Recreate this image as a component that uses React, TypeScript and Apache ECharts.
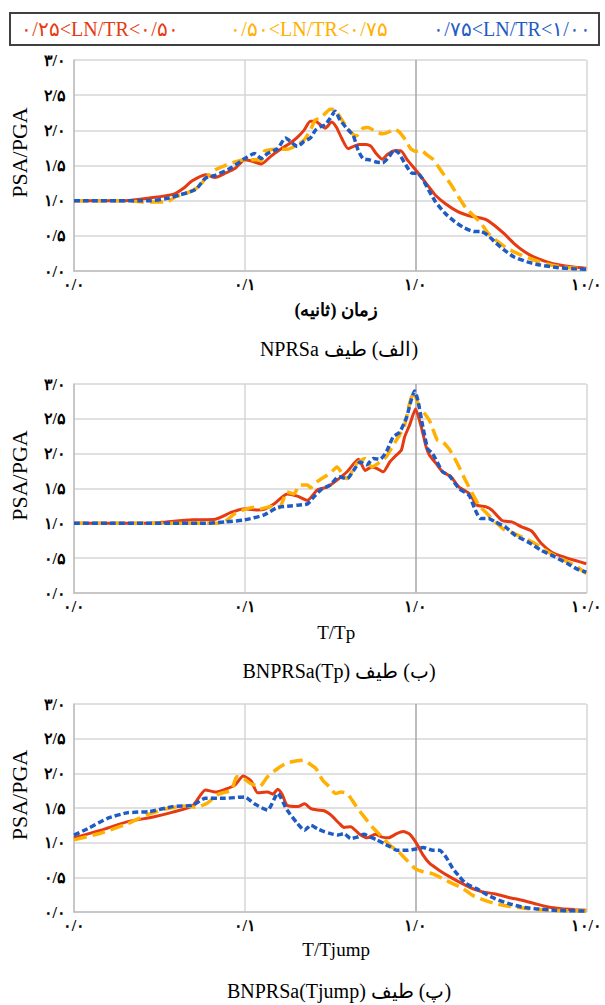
import { useEffect, useRef } from 'react';
import * as echarts from 'echarts';

// ---------- DATA (period or normalised period, PSA/PGA) ----------
const nprsaRed: [number, number][] = [
  [0.01, 1.0], [0.02, 1.0], [0.028, 1.04], [0.038, 1.09], [0.044, 1.18], [0.049, 1.28], [0.059, 1.37], [0.067, 1.33],
  [0.077, 1.39], [0.088, 1.46], [0.1, 1.58], [0.114, 1.55], [0.125, 1.52], [0.142, 1.63], [0.162, 1.73], [0.185, 1.82],
  [0.203, 1.9], [0.222, 2.0], [0.242, 2.13], [0.259, 2.13], [0.277, 2.08], [0.296, 2.03], [0.323, 2.12], [0.345, 2.04],
  [0.369, 1.89], [0.403, 1.74], [0.441, 1.78], [0.471, 1.8], [0.515, 1.8], [0.55, 1.77], [0.588, 1.67], [0.637, 1.59],
  [0.687, 1.66], [0.75, 1.71], [0.819, 1.71], [0.895, 1.58], [1.0, 1.44], [1.093, 1.32], [1.194, 1.2], [1.304, 1.08],
  [1.49, 0.96], [1.78, 0.84], [2.03, 0.79], [2.32, 0.76], [2.59, 0.73], [2.89, 0.65], [3.3, 0.53], [3.78, 0.39],
  [4.31, 0.28], [4.92, 0.2], [5.88, 0.13], [7.0, 0.085], [8.4, 0.057], [10, 0.04],
];
const nprsaOrange: [number, number][] = [
  [0.01, 1.0], [0.02, 1.0], [0.0255, 0.98], [0.0347, 0.98], [0.0396, 1.06], [0.0452, 1.1], [0.054, 1.2], [0.0589, 1.32],
  [0.0673, 1.44], [0.0768, 1.5], [0.0877, 1.55], [0.1, 1.58], [0.119, 1.58], [0.125, 1.57], [0.13, 1.7], [0.149, 1.73],
  [0.177, 1.73], [0.203, 1.79], [0.222, 1.86], [0.242, 2.0], [0.259, 2.15], [0.277, 2.17], [0.296, 2.24], [0.316, 2.3],
  [0.338, 2.29], [0.361, 2.19], [0.395, 2.05], [0.422, 1.96], [0.451, 1.92], [0.492, 2.03], [0.526, 2.04], [0.588, 1.98],
  [0.642, 1.95], [0.702, 1.98], [0.75, 2.02], [0.801, 1.98], [0.876, 1.86], [0.936, 1.74], [1.0, 1.7], [1.069, 1.72],
  [1.168, 1.65], [1.276, 1.58], [1.425, 1.41], [1.59, 1.25], [1.78, 1.06], [1.98, 0.89], [2.22, 0.77], [2.42, 0.68],
  [2.65, 0.54], [3.02, 0.42], [3.45, 0.32], [4.12, 0.23], [4.92, 0.16], [5.88, 0.1], [7.02, 0.06], [10, 0.03],
];
const nprsaBlue: [number, number][] = [
  [0.01, 1.0], [0.0278, 1.0], [0.0347, 1.03], [0.0414, 1.08], [0.0517, 1.16], [0.0589, 1.32], [0.0673, 1.36],
  [0.0838, 1.47], [0.1, 1.6], [0.114, 1.67], [0.125, 1.6], [0.136, 1.67], [0.156, 1.74], [0.173, 1.89], [0.194, 1.8],
  [0.203, 1.77], [0.222, 1.84], [0.242, 1.89], [0.259, 2.0], [0.277, 2.05], [0.296, 2.08], [0.316, 2.17], [0.338, 2.27],
  [0.361, 2.15], [0.395, 2.03], [0.431, 1.93], [0.461, 1.72], [0.492, 1.6], [0.538, 1.58], [0.588, 1.55], [0.642, 1.54],
  [0.702, 1.63], [0.75, 1.72], [0.801, 1.67], [0.876, 1.51], [0.957, 1.39], [1.022, 1.39], [1.093, 1.32], [1.194, 1.15],
  [1.304, 0.99], [1.49, 0.82], [1.7, 0.7], [1.94, 0.61], [2.22, 0.56], [2.42, 0.56], [2.65, 0.51], [2.89, 0.42],
  [3.3, 0.3], [3.78, 0.2], [4.51, 0.13], [5.38, 0.085], [6.71, 0.05], [8.38, 0.033], [10, 0.024],
];

const tpRed: [number, number][] = [
  [0.01, 1.0], [0.0278, 1.0], [0.0347, 1.02], [0.0494, 1.05], [0.0673, 1.06], [0.0838, 1.16], [0.1, 1.21], [0.119, 1.19],
  [0.13, 1.2], [0.149, 1.28], [0.177, 1.42], [0.203, 1.39], [0.233, 1.33], [0.266, 1.48], [0.304, 1.52], [0.347, 1.62],
  [0.397, 1.74], [0.464, 1.92], [0.507, 1.76], [0.554, 1.81], [0.592, 1.79], [0.647, 1.74], [0.707, 1.88], [0.773, 1.98],
  [0.826, 2.05], [0.863, 2.24], [0.923, 2.41], [1.0, 2.64], [1.079, 2.39], [1.153, 2.1], [1.205, 1.98], [1.318, 1.86],
  [1.44, 1.74], [1.61, 1.67], [1.8, 1.52], [2.06, 1.43], [2.3, 1.26], [2.57, 1.24], [2.8, 1.19], [3.21, 1.04],
  [3.66, 1.02], [4.18, 0.95], [4.78, 0.89], [5.46, 0.71], [6.24, 0.59], [7.13, 0.53], [8.52, 0.47], [10, 0.42],
];
const tpOrange: [number, number][] = [
  [0.01, 1.0], [0.0673, 1.0], [0.0768, 1.03], [0.0877, 1.14], [0.1, 1.2], [0.114, 1.23], [0.125, 1.21], [0.142, 1.24],
  [0.159, 1.22], [0.177, 1.45], [0.194, 1.42], [0.21, 1.55], [0.233, 1.55], [0.243, 1.51], [0.266, 1.6], [0.317, 1.72],
  [0.347, 1.81], [0.371, 1.72], [0.397, 1.64], [0.453, 1.86], [0.507, 1.93], [0.554, 1.81], [0.619, 1.88], [0.676, 1.96],
  [0.739, 2.12], [0.808, 2.27], [0.863, 2.41], [0.923, 2.72], [0.974, 2.87], [1.055, 2.67], [1.127, 2.58], [1.205, 2.48],
  [1.26, 2.36], [1.347, 2.19], [1.44, 2.17], [1.57, 2.07], [1.68, 1.95], [1.8, 1.81], [1.96, 1.62], [2.15, 1.43],
  [2.35, 1.26], [2.62, 1.14], [2.93, 1.02], [3.35, 0.9], [3.83, 0.85], [4.38, 0.78], [5.0, 0.71], [5.97, 0.59],
  [7.13, 0.49], [8.52, 0.4], [10, 0.28],
];
const tpBlue: [number, number][] = [
  [0.01, 1.0], [0.0589, 1.0], [0.0768, 1.02], [0.1, 1.05], [0.13, 1.12], [0.156, 1.23], [0.185, 1.25], [0.204, 1.26],
  [0.233, 1.28], [0.254, 1.38], [0.285, 1.5], [0.317, 1.55], [0.355, 1.67], [0.397, 1.64], [0.434, 1.76], [0.474, 1.88],
  [0.518, 1.84], [0.566, 1.93], [0.619, 1.92], [0.676, 2.03], [0.739, 2.24], [0.808, 2.31], [0.883, 2.51], [0.944, 2.77],
  [0.987, 2.9], [1.031, 2.77], [1.103, 2.39], [1.179, 2.07], [1.26, 2.0], [1.44, 1.74], [1.57, 1.69], [1.8, 1.5],
  [2.06, 1.4], [2.24, 1.19], [2.4, 1.07], [2.68, 1.07], [2.93, 1.02], [3.35, 0.95], [3.83, 0.83], [4.58, 0.73],
  [5.47, 0.61], [6.53, 0.52], [7.8, 0.42], [8.9, 0.34], [10, 0.3],
];

const tjumpRed: [number, number][] = [
  [0.01, 1.07], [0.0144, 1.18], [0.0204, 1.3], [0.0291, 1.37], [0.0379, 1.44], [0.0494, 1.53], [0.0589, 1.76],
  [0.0673, 1.73], [0.0768, 1.77], [0.0877, 1.83], [0.0978, 1.96], [0.109, 1.89], [0.119, 1.72], [0.136, 1.73],
  [0.146, 1.7], [0.156, 1.77], [0.166, 1.69], [0.177, 1.54], [0.205, 1.52], [0.224, 1.56], [0.244, 1.49], [0.267, 1.47],
  [0.292, 1.46], [0.319, 1.4], [0.357, 1.28], [0.381, 1.22], [0.417, 1.23], [0.466, 1.13], [0.52, 1.07], [0.581, 1.12],
  [0.636, 1.08], [0.695, 1.07], [0.776, 1.13], [0.848, 1.16], [0.927, 1.12], [1.013, 0.99], [1.108, 0.82], [1.21, 0.7],
  [1.38, 0.6], [1.58, 0.51], [1.81, 0.43], [2.06, 0.36], [2.47, 0.29], [2.94, 0.26], [3.52, 0.21], [4.2, 0.17],
  [5.02, 0.12], [6.0, 0.072], [7.16, 0.048], [8.56, 0.034], [10, 0.024],
];
const tjumpOrange: [number, number][] = [
  [0.01, 1.04], [0.0144, 1.14], [0.0204, 1.27], [0.0266, 1.4], [0.0347, 1.49], [0.0452, 1.53], [0.0517, 1.51],
  [0.0602, 1.57], [0.0703, 1.7], [0.0838, 1.76], [0.0896, 1.95], [0.0978, 1.93], [0.109, 1.85], [0.122, 1.81],
  [0.136, 1.95], [0.156, 2.07], [0.177, 2.15], [0.203, 2.18], [0.224, 2.19], [0.239, 2.14], [0.261, 2.07], [0.286, 1.9],
  [0.312, 1.81], [0.341, 1.71], [0.365, 1.73], [0.398, 1.71], [0.426, 1.61], [0.466, 1.47], [0.509, 1.35], [0.556, 1.23],
  [0.621, 1.11], [0.71, 0.96], [0.794, 0.87], [0.887, 0.75], [0.991, 0.63], [1.108, 0.58], [1.266, 0.55], [1.446, 0.48],
  [1.65, 0.41], [1.89, 0.34], [2.16, 0.24], [2.47, 0.18], [2.94, 0.12], [3.52, 0.082], [4.59, 0.048], [6.0, 0.024],
  [10, 0.014],
];
const tjumpBlue: [number, number][] = [
  [0.01, 1.11], [0.012, 1.2], [0.0157, 1.35], [0.0204, 1.43], [0.0278, 1.45], [0.0379, 1.52], [0.0494, 1.54],
  [0.0589, 1.64], [0.0768, 1.64], [0.1, 1.66], [0.114, 1.56], [0.136, 1.47], [0.156, 1.71], [0.177, 1.47], [0.203, 1.28],
  [0.224, 1.18], [0.244, 1.25], [0.267, 1.2], [0.292, 1.16], [0.319, 1.13], [0.349, 1.11], [0.381, 1.13], [0.417, 1.06],
  [0.455, 1.08], [0.498, 1.12], [0.544, 1.08], [0.594, 1.04], [0.65, 0.99], [0.71, 0.94], [0.776, 0.89], [0.887, 0.89],
  [1.013, 0.91], [1.108, 0.93], [1.266, 0.89], [1.38, 0.89], [1.51, 0.79], [1.65, 0.63], [1.81, 0.51], [1.97, 0.41],
  [2.26, 0.34], [2.58, 0.26], [2.94, 0.19], [3.52, 0.12], [4.2, 0.072], [5.02, 0.048], [6.56, 0.024], [10, 0.014],
];

const seriesNames = ['۰/۲۵<LN/TR<۰/۵۰', '۰/۵۰<LN/TR<۰/۷۵', '۰/۷۵<LN/TR<۱/۰۰'];
const xAxisNames = ['\u202Bزمان (ثانیه)\u202C', 'T/Tp', 'T/Tjump'];
const captions = [
  '\u202B(الف) طیف NPRSa\u202C',
  '\u202B(ب) طیف BNPRSa(Tp)\u200E\u202C',
  '\u202B(پ) طیف BNPRSa(Tjump)\u200E\u202C',
];
const yAxisName = 'PSA/PGA';

// ---------- STYLE / LAYOUT ----------
const FONT = '"Liberation Serif", "Times New Roman", serif';
const COLORS = ['#E63A12', '#FFB000', '#1F5BC4'];
const DASHES: any[] = ['solid', [13, 6], [6, 3]];
const WIDTHS = [3, 3.5, 3.5];
const GRID_TOPS = [60, 384, 704];
const GRID_HEIGHTS = [211, 209, 208];
const NAME_GAPS = [30, 30, 28];
const CAPTION_Y = [349, 671, 991];
const LEGEND_X = [100, 309, 512];

const toFa = (s: string) =>
  s.replace(/[0-9]/g, (d) => String.fromCharCode(0x06f0 + Number(d))).replace(/\./g, '/');

export default function App() {
  const ref = useRef<HTMLDivElement>(null);
  useEffect(() => {
    if (!ref.current) return;
    const chart = echarts.init(ref.current, null, { renderer: 'svg' });
    const panels = [
      [nprsaRed, nprsaOrange, nprsaBlue],
      [tpRed, tpOrange, tpBlue],
      [tjumpRed, tjumpOrange, tjumpBlue],
    ];
    const grid = GRID_TOPS.map((top, i) => ({ left: 73, width: 520, top, height: GRID_HEIGHTS[i] }));
    const xAxis = panels.map((_, i) => ({
      type: 'log',
      logBase: 10,
      min: 0.01,
      max: 10,
      gridIndex: i,
      axisLine: { show: true, onZero: false, lineStyle: { color: '#bfbfbf', width: 1.5 } },
      axisTick: { show: false },
      axisLabel: {
        formatter: (v: number) => toFa(Number(v).toFixed(1)),
        fontFamily: FONT,
        fontSize: 16,
        fontWeight: 'bold',
        color: '#000',
        margin: 5,
      },
      splitLine: {
        show: true,
        lineStyle: { color: ['#d6d6d6', '#d6d6d6', '#a6a6a6', '#d6d6d6'], width: 1.5 },
      },
      name: xAxisNames[i],
      nameLocation: 'middle',
      nameGap: NAME_GAPS[i],
      nameTextStyle: {
        fontFamily: FONT,
        fontSize: i === 0 ? 18 : 19,
        fontWeight: i === 0 ? 'bold' : 'normal',
        color: '#000',
        padding: [0, 0, 0, 12],
      },
    }));
    const yAxis = panels.map((_, i) => ({
      type: 'value',
      min: 0,
      max: 3,
      interval: 0.5,
      gridIndex: i,
      axisLine: { show: true, lineStyle: { color: '#bfbfbf', width: 1.5 } },
      axisTick: { show: false },
      axisLabel: {
        formatter: (v: number) => toFa(Number(v).toFixed(1)),
        fontFamily: FONT,
        fontSize: 16,
        fontWeight: 'bold',
        color: '#000',
        margin: 8,
      },
      splitLine: { show: true, lineStyle: { color: '#d6d6d6', width: 1.5 } },
      name: yAxisName,
      nameLocation: 'middle',
      nameGap: 44,
      nameRotate: 90,
      nameTextStyle: { fontFamily: FONT, fontSize: 22, color: '#000', padding: [0, 0, 0, 26] },
    }));
    const series: any[] = [];
    panels.forEach((set, i) => {
      set.forEach((data, k) => {
        series.push({
          type: 'line',
          name: seriesNames[k],
          xAxisIndex: i,
          yAxisIndex: i,
          data,
          showSymbol: false,
          symbol: 'none',
          smooth: 0.2,
          lineStyle: { color: COLORS[k], width: WIDTHS[k], type: DASHES[k] },
          z: 2 + k,
        });
      });
    });
    const graphic: any[] = [
      {
        type: 'rect',
        shape: { x: 10, y: 13, width: 589, height: 32 },
        style: { fill: '#fff', stroke: '#404040', lineWidth: 2 },
      },
      ...seriesNames.map((t, k) => ({
        type: 'text',
        x: LEGEND_X[k],
        y: 29,
        style: {
          text: t,
          fill: COLORS[k],
          fontFamily: FONT,
          fontSize: 20,
          align: 'center',
          verticalAlign: 'middle',
        },
      })),
      ...captions.map((t, i) => ({
        type: 'text',
        x: 339,
        y: CAPTION_Y[i],
        style: {
          text: t,
          fill: '#000',
          fontFamily: FONT,
          fontSize: 20,
          align: 'center',
          verticalAlign: 'middle',
        },
      })),
    ];
    chart.setOption({
      animation: false,
      backgroundColor: '#fff',
      grid,
      xAxis,
      yAxis,
      series,
      graphic,
    });
    return () => chart.dispose();
  }, []);
  return (
    <div
      ref={ref}
      style={{ position: 'absolute', left: 0, top: 0, width: 605, height: 1005, background: '#fff' }}
    />
  );
}
